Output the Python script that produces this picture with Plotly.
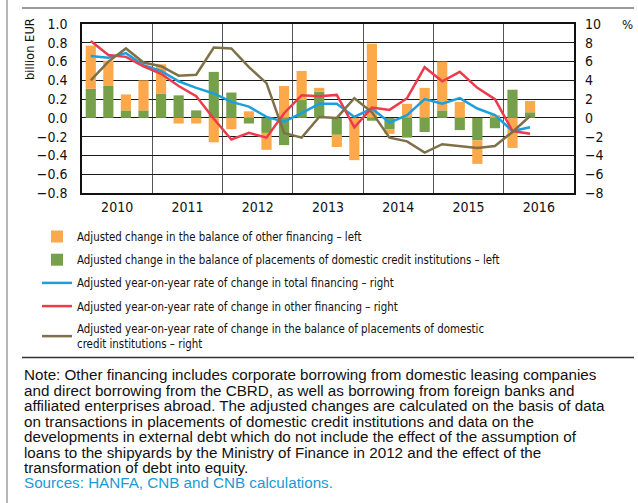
import plotly.graph_objects as go

# Quarterly data, 2010 Q1 - 2016 Q2
quarters = [f"{y}Q{q}" for y in range(2010, 2017) for q in range(1, 5)][:26]
years = ["2010", "2011", "2012", "2013", "2014", "2015", "2016"]

# billion EUR (left axis)
placements_change = [0.31, 0.34, 0.08, 0.08, 0.26, 0.24, 0.08, 0.49,
                     0.27, -0.06, -0.16, -0.29, 0.19, 0.28, -0.18, 0.00,
                     -0.03, -0.12, -0.21, -0.15, 0.08, -0.13, -0.24, -0.11,
                     0.30, 0.06]
other_change = [0.46, 0.27, 0.17, 0.32, 0.31, -0.06, -0.06, -0.26,
                -0.12, 0.07, -0.18, 0.34, 0.31, 0.04, -0.13, -0.45,
                0.79, -0.05, 0.15, 0.32, 0.52, 0.17, -0.25, 0.03,
                -0.32, 0.12]

# % (right axis)
total_rate = [6.6, 6.4, 6.9, 5.6, 5.0, 3.9, 3.2, 2.6,
              1.7, 1.2, 0.1, -0.4, 0.5, 1.5, 1.5, 0.1,
              1.0, -0.5, 0.3, 2.0, 1.5, 2.1, 1.0, 0.3,
              -1.4, -1.0]
other_rate = [8.2, 6.7, 6.5, 5.5, 4.7, 3.4, 2.3, -0.1,
              -2.3, -1.6, -2.1, 0.5, 2.4, 2.3, 2.45, -1.0,
              1.1, 0.85, 2.1, 5.4, 3.9, 4.9, 3.2, 2.0,
              -1.4, -1.7]
placements_rate = [4.0, 6.0, 7.4, 5.9, 5.5, 4.5, 4.6, 7.5,
                   7.4, 5.4, 3.7, -1.6, -2.1, 0.1, 0.0, 2.1,
                   0.6, -2.1, -2.5, -3.7, -2.8, -3.0, -3.2, -3.0,
                   -1.5, 0.2]

ORANGE = "#FBA94B"
GREEN = "#77A04A"
BLUE = "#1C9FDD"
RED = "#EE3B4C"
BROWN = "#7E7049"

x = list(range(len(quarters)))

fig = go.Figure()
# green is added first so that it sits next to the zero line in the stack
fig.add_trace(go.Bar(x=x, y=placements_change, marker_color=GREEN, marker_line_width=0,
                     name="Adjusted change in the balance of placements of domestic credit institutions – left",
                     legendrank=2, legendgroup="g2"))
fig.add_trace(go.Bar(x=x, y=other_change, marker_color=ORANGE, marker_line_width=0,
                     name="Adjusted change in the balance of other financing – left",
                     legendrank=1, legendgroup="g1"))
fig.add_trace(go.Scatter(x=x, y=total_rate, yaxis="y2", mode="lines",
                         line=dict(color=BLUE, width=2.5),
                         name="Adjusted year-on-year rate of change in total financing – right",
                         legendrank=3, legendgroup="g3"))
fig.add_trace(go.Scatter(x=x, y=other_rate, yaxis="y2", mode="lines",
                         line=dict(color=RED, width=2.5),
                         name="Adjusted year-on-year rate of change in other financing – right",
                         legendrank=4, legendgroup="g4"))
fig.add_trace(go.Scatter(x=x, y=placements_rate, yaxis="y2", mode="lines",
                         line=dict(color=BROWN, width=2.5),
                         name="Adjusted year-on-year rate of change in the balance of placements of domestic<br>credit institutions – right",
                         legendrank=5, legendgroup="g5"))

W, H = 638, 503
L, R, T, B = 82, 574, 24, 193


def px(xp):
    return (xp - L) / (R - L)


def py(yp):
    return (B - yp) / (B - T)


narrow = "DejaVu Sans Condensed"
tick_font = dict(family=narrow, size=14, color="#111")

fig.update_layout(
    width=W, height=H,
    margin=dict(l=L, r=W - R, t=T, b=H - B, pad=0),
    paper_bgcolor="white", plot_bgcolor="white",
    barmode="relative", bargap=0.42,
    showlegend=True,
    legend=dict(x=px(37), y=py(222), xanchor="left", yanchor="top",
                font=dict(family=narrow, size=11.4, color="#111"),
                traceorder="grouped", tracegroupgap=4.2, bgcolor="rgba(0,0,0,0)",
                itemwidth=30),
    xaxis=dict(range=[-0.5, 27.5], tickmode="array",
               tickvals=[i * 4 + 1.5 for i in range(len(years))], ticktext=years,
               showgrid=False, zeroline=False, ticks="",
               showline=True, mirror=True, linecolor="#111", linewidth=1.5,
               tickfont=tick_font,
               minor=dict(tickmode="array", tickvals=[i * 4 + 3.5 for i in range(6)],
                          showgrid=True, gridcolor="#555", gridwidth=1.2, ticks="")),
    yaxis=dict(range=[-0.8, 1.0], dtick=0.2, tick0=0, tickformat=".1f",
               showgrid=True, gridcolor="#1a1a1a", gridwidth=1.1,
               zeroline=True, zerolinecolor="#1a1a1a", zerolinewidth=1.1,
               showline=True, mirror=True, linecolor="#111", linewidth=1.5,
               ticks="", ticklabelstandoff=10, tickfont=tick_font),
    yaxis2=dict(range=[-8, 10], tickmode="array", tickvals=list(range(-8, 11, 2)),
                overlaying="y", side="right", showgrid=False, zeroline=False,
                ticks="", ticklabelstandoff=10, tickfont=tick_font),
)

shapes = [
    dict(type="line", xref="paper", yref="paper", x0=px(22), x1=px(634), y0=py(8), y1=py(8),
         line=dict(color="#777", width=1.5)),
    dict(type="line", xref="paper", yref="paper", x0=px(22), x1=px(634), y0=py(357.5), y1=py(357.5),
         line=dict(color="#333", width=1.3)),
    dict(type="line", xref="paper", yref="paper", x0=px(7), x1=px(7), y0=py(0), y1=py(503),
         line=dict(color="#888", width=1.2)),
]
fig.update_layout(shapes=shapes)

annotations = [
    dict(text="billion EUR", textangle=-90, xref="paper", yref="paper",
         x=px(29), y=py(49), xanchor="center", yanchor="middle", showarrow=False,
         font=dict(family=narrow, size=12.8, color="#111")),
    dict(text="%", xref="paper", yref="paper", x=px(627), y=py(24),
         xanchor="center", yanchor="middle", showarrow=False,
         font=dict(family=narrow, size=13, color="#111")),
]

note_lines = [
    "Note: Other financing includes corporate borrowing from domestic leasing companies",
    "and direct borrowing from the CBRD, as well as borrowing from foreign banks and",
    "affiliated enterprises abroad. The adjusted changes are calculated on the basis of data",
    "on transactions in placements of domestic credit institutions and data on the",
    "developments in external debt which do not include the effect of the assumption of",
    "loans to the shipyards by the Ministry of Finance in 2012 and the effect of the",
    "transformation of debt into equity.",
]
source_line = "Sources: HANFA, CNB and CNB calculations."

for i, line in enumerate(note_lines + [source_line]):
    annotations.append(dict(
        text=line, xref="paper", yref="paper", x=px(22), y=py(375 + 15.4 * i),
        xanchor="left", yanchor="middle", showarrow=False,
        font=dict(family="Liberation Sans", size=15.2,
                  color="#1A9AD6" if line == source_line else "#111")))

fig.update_layout(annotations=annotations)

fig.write_html("out.html")
